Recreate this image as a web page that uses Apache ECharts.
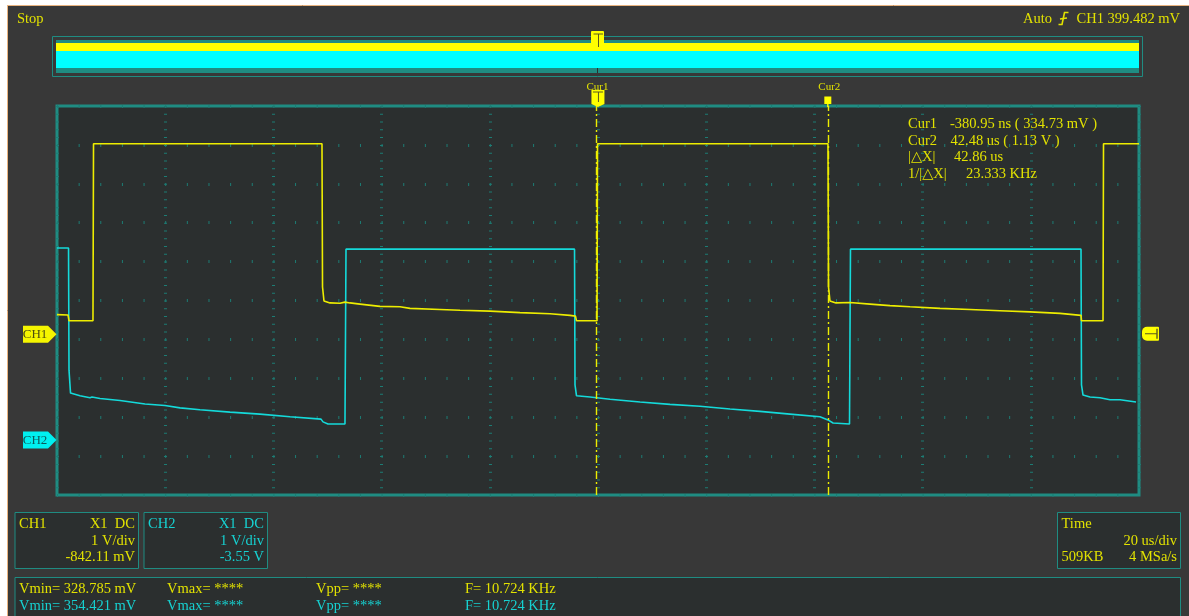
<!DOCTYPE html>
<html><head><meta charset="utf-8">
<script src="https://cdn.jsdelivr.net/npm/echarts@6/dist/echarts.min.js"></script>
<style>html,body{margin:0;padding:0;background:#fff;}#c{width:1189px;height:616px;}</style>
</head><body><div id="c"></div>
<script>
// ---- data ----
const timeMin = -100, timeMax = 100, timePerDiv = 20;      // us
const voltsPerDiv = 1;                                      // V/div
const ch1Offset = -0.84211, ch2Offset = -3.55;              // V
const cursorNames = ['Cur1', 'Cur2'];
const cursorTimes = [-0.38095, 42.48];                      // us
const ch1Time = [-100, -97.97, -97.78, -93.35, -93.25, -51.02, -50.92, -50.65, -49.54, -47.69, -46.77, -45.84, -43.99, -40.30, -36.60, -34.75, -29.21, -25.51, -19.96, -14.42, -8.87, -5.18, -4.16, -3.97, -0.18, -0.09, 42.51, 42.61, 42.88, 43.99, 46.58, 50.28, 53.97, 57.67, 63.22, 68.76, 74.31, 79.85, 85.40, 89.28, 89.37, 93.35, 93.44, 100];
const ch1Volts = [0.48, 0.47, 0.32, 0.32, 4.87, 4.87, 1.19, 0.83, 0.78, 0.77, 0.80, 0.78, 0.75, 0.69, 0.68, 0.64, 0.61, 0.59, 0.57, 0.53, 0.50, 0.46, 0.44, 0.32, 0.32, 4.87, 4.87, 1.19, 0.83, 0.78, 0.79, 0.75, 0.71, 0.68, 0.64, 0.61, 0.58, 0.55, 0.51, 0.46, 0.32, 0.32, 4.87, 4.87];
const ch2Time = [-100, -97.87, -97.78, -97.50, -97.41, -95.75, -93.90, -93.53, -92.05, -88.35, -83.73, -80.04, -77.26, -73.57, -68.02, -62.48, -56.93, -51.20, -50.83, -49.91, -46.77, -46.67, -46.58, -4.34, -4.25, -3.97, -1.48, 2.22, 7.76, 13.31, 18.85, 24.40, 29.94, 35.49, 41.03, 42.51, 43.44, 46.49, 46.58, 46.67, 89.28, 89.37, 89.65, 90.94, 92.79, 94.64, 96.49, 99.45];
const ch2Volts = [4.90, 4.90, 1.76, 1.17, 1.12, 1.10, 1.05, 1.07, 1.03, 0.98, 0.89, 0.85, 0.79, 0.74, 0.68, 0.63, 0.56, 0.50, 0.43, 0.375, 0.375, 2.71, 4.87, 4.87, 1.38, 1.10, 1.07, 1.01, 0.94, 0.88, 0.83, 0.76, 0.70, 0.63, 0.56, 0.48, 0.40, 0.375, 2.71, 4.87, 4.87, 1.38, 1.12, 1.07, 1.05, 1.00, 1.00, 0.94];
const cursorReadLabels = ['Cur1', 'Cur2', '|△X|', '1/|△X|'];
const cursorReadValues = ['-380.95 ns ( 334.73 mV )', '42.48 us ( 1.13 V )', '42.86 us', '23.333 KHz'];
const statusLeft = 'Stop';
const statusRight = ['Auto', 'CH1 399.482 mV'];
const ch1Box = ['CH1', 'X1  DC', '1 V/div', '-842.11 mV'];
const ch2Box = ['CH2', 'X1  DC', '1 V/div', '-3.55 V'];
const timeBox = ['Time', '20 us/div', '509KB', '4 MSa/s'];
const measureCH1 = ['Vmin= 328.785 mV', 'Vmax= ****', 'Vpp= ****', 'F= 10.724 KHz'];
const measureCH2 = ['Vmin= 354.421 mV', 'Vmax= ****', 'Vpp= ****', 'F= 10.724 KHz'];

// ---- style ----
const BG = '#383838', PLOT = '#2b2f2f', TEAL = '#1f8c82', GRIDC = '#1d7c74';
const YEL = '#eded00', CYA = '#14dada', YT = '#e2e200', CT = '#16d2d2';
const F = '14.5px "Liberation Serif", "DejaVu Serif", serif';

const zip = (a, b) => a.map((v, i) => [v, b[i]]);
const chart = echarts.init(document.getElementById('c'), null, {renderer: 'canvas'});

chart.setOption({
  animation: false,
  backgroundColor: BG,
  grid: {left: 57, top: 106, width: 1082, height: 389, show: true, backgroundColor: PLOT, borderColor: TEAL, borderWidth: 3},
  xAxis: [{type: 'value', min: timeMin, max: timeMax, interval: timePerDiv,
    axisLine: {show: false}, axisTick: {show: false}, axisLabel: {show: false},
    splitLine: {show: true, lineStyle: {color: GRIDC, width: 3, type: [1, 389 / 50 - 1]}}}],
  yAxis: [
    {type: 'value', min: -5, max: 5, interval: 1,
      axisLine: {show: false}, axisTick: {show: false}, axisLabel: {show: false},
      splitLine: {show: true, lineStyle: {color: GRIDC, width: 3, type: [1, 1082 / 50 - 1]}}},
    {type: 'value', show: false, min: -5 * voltsPerDiv - ch1Offset, max: 5 * voltsPerDiv - ch1Offset},
    {type: 'value', show: false, min: -5 * voltsPerDiv - ch2Offset, max: 5 * voltsPerDiv - ch2Offset}
  ],
  series: [
    {type: 'line', name: 'CH2', xAxisIndex: 0, yAxisIndex: 2, data: zip(ch2Time, ch2Volts),
      showSymbol: false, lineStyle: {color: CYA, width: 1.6}, z: 3, silent: true},
    {type: 'line', name: 'CH1', xAxisIndex: 0, yAxisIndex: 1, data: zip(ch1Time, ch1Volts),
      showSymbol: false, lineStyle: {color: YEL, width: 1.6}, z: 4, silent: true,
      markLine: {silent: true, symbol: ['none', 'none'], label: {show: false},
        lineStyle: {color: YEL, width: 1.4, type: [8, 3, 2, 3]},
        data: cursorTimes.map(t => ({xAxis: t}))}}
  ]
});

const px = t => chart.convertToPixel({xAxisIndex: 0}, t);
const py1 = v => chart.convertToPixel({yAxisIndex: 1}, v);
const py2 = v => chart.convertToPixel({yAxisIndex: 2}, v);

const g = [];
const txt = (text, x, y, fill, align, font) => g.push({type: 'text', z: 100, style: {text, x, y, fill, font: font || F, textAlign: align || 'left', textVerticalAlign: 'middle'}});
const rect = (x, y, w, h, fill, stroke, lw, r) => g.push({type: 'rect', z: 90, shape: {x, y, width: w, height: h, r: r || 0}, style: {fill: fill || 'none', stroke: stroke || 'none', lineWidth: lw || 1}});
const line = (x1, y1, x2, y2, stroke, lw) => g.push({type: 'line', z: 101, shape: {x1, y1, x2, y2}, style: {stroke, lineWidth: lw || 1}});

// outer frame
rect(0, 0, 1189, 5, '#ffffff');
rect(0, 0, 7, 616, '#ffffff');
line(7.5, 5, 7.5, 616, '#e9b37f', 1);
line(7, 5.5, 1189, 5.5, '#e9b37f', 1);

// status
txt(statusLeft, 17, 19, YT);
txt(statusRight[0], 1023, 19, YT);
g.push({type: 'polyline', z: 100, shape: {points: [[1058.5, 24.5], [1062, 24.5], [1064.5, 12.5], [1068.5, 12.5]]}, style: {stroke: YT, lineWidth: 1.6, fill: 'none'}});
line(1060, 19, 1067, 18, YT, 1.4);
txt(statusRight[1], 1180, 19, YT, 'right');

// overview bar
rect(52.5, 36.5, 1090, 40, 'none', TEAL, 1);
rect(56, 40, 1083, 33, TEAL);
rect(56, 43, 1083, 8, '#ffff00');
rect(56, 51, 1083, 17, '#00ffff');
g.push({type: 'rect', z: 95, shape: {x: 591, y: 31, width: 13, height: 12, r: [1, 1, 0, 0]}, style: {fill: '#ffff00'}});
line(593.5, 34, 603, 34, '#5a5a20', 1);
line(598.5, 34, 598.5, 47, '#5a5a20', 1);
line(597.5, 68, 597.5, 73, '#2b2f2f', 1);

// cursor markers above plot
cursorTimes.forEach((t, i) => {
  const x = px(t);
  txt(cursorNames[i], x + 1.5, 87, YT, 'center', '11px "Liberation Serif", serif');
});
{
  const x = px(cursorTimes[0]) + 2;
  g.push({type: 'polygon', z: 99, shape: {points: [[x - 6.5, 90], [x + 6.5, 90], [x + 6.5, 104], [x, 107], [x - 6.5, 104]]}, style: {fill: '#ffff00'}});
  line(x - 5, 92, x + 5, 92, '#5a5a20', 1);
  line(x + 0.5, 92, x + 0.5, 102, '#5a5a20', 1);
  const x2 = px(cursorTimes[1]);
  rect(x2 - 3.5, 96.5, 7, 7.5, '#ffff00');
  line(x2, 104, x2, 107, '#ffff00', 1.4);
}

// cursor readout
const ry = [124.5, 141, 157.5, 174];
const rvx = [950, 950.5, 954, 966];
cursorReadLabels.forEach((l, i) => { txt(l, 908, ry[i], YT); txt(cursorReadValues[i], rvx[i], ry[i], YT); });

// channel markers
const chMarker = (y, label, fill, tc) => {
  g.push({type: 'polygon', z: 99, shape: {points: [[23, y - 8.5], [48, y - 8.5], [56.5, y], [48, y + 8.5], [23, y + 8.5]]}, style: {fill}});
  txt(label, 35, y, tc, 'center', '13px "Liberation Serif", serif');
};
chMarker(py1(0) + 1, 'CH1', '#f5f500', '#4d4d10');
chMarker(py2(0) + 1.5, 'CH2', '#00f0f0', '#0b5c5c');

// trigger level marker right
{
  const y = py1(0) + 0.5;
  g.push({type: 'rect', z: 99, shape: {x: 1142, y: y - 7, width: 17, height: 14, r: [5, 1, 1, 5]}, style: {fill: '#ffff00'}});
  line(1145, y, 1157, y, '#5a5a20', 1);
  line(1157, y - 5, 1157, y + 5, '#5a5a20', 1.4);
}

// bottom boxes
const box = (x, w, rows, color) => {
  rect(x + 0.5, 512.5, w, 56, PLOT, TEAL, 1);
  txt(rows[0], x + 4.5, 524.5, color);
  txt(rows[1], x + w - 3, 524.5, color, 'right');
  txt(rows[2], x + w - 3, 541.5, color, 'right');
  txt(rows[3], x + w - 3, 557.5, color, 'right');
};
box(14.5, 123.5, ch1Box, YT);
box(143.5, 123.5, ch2Box, CT);
rect(1057.5, 512.5, 123, 56, PLOT, TEAL, 1);
txt(timeBox[0], 1061.5, 524.5, YT);
txt(timeBox[1], 1177, 541.5, YT, 'right');
txt(timeBox[2], 1061.5, 557.5, YT);
txt(timeBox[3], 1177, 557.5, YT, 'right');

// measurement bar
rect(15, 577.5, 1165.5, 45, PLOT, TEAL, 1);
const mx = [19, 167, 316, 465];
measureCH1.forEach((s, i) => txt(s, mx[i], 589.5, YT));
measureCH2.forEach((s, i) => txt(s, mx[i], 606, CT));

chart.setOption({graphic: g});
</script></body></html>
